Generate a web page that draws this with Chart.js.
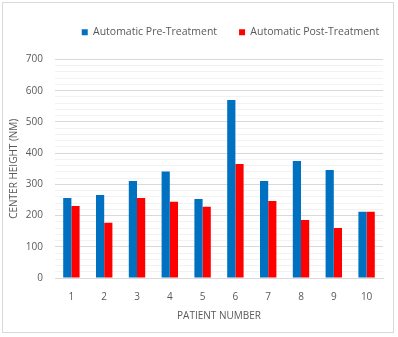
<!DOCTYPE html>
<html>
<head>
<meta charset="utf-8">
<script src="https://cdn.jsdelivr.net/npm/chart.js@4"></script>
<style>
  html, body { margin: 0; padding: 0; background: #fff; }
  .frame {
    position: absolute; left: 2px; top: 2px;
    width: 392px; height: 331px;
    border: 1px solid #d9d9d9; box-sizing: border-box;
  }
  canvas { display: block; }
</style>
</head>
<body>
<div class="frame"><canvas id="heightChart"></canvas></div>
<script>
const patients = ["1", "2", "3", "4", "5", "6", "7", "8", "9", "10"];
const preTreatment = [256, 266, 311, 341, 253, 570, 311, 375, 346, 212];
const postTreatment = [231, 177, 256, 244, 228, 365, 247, 186, 160, 212];

const textColor = "#595959";
const chartFont = { family: "Open Sans, Arial", size: 10 };

// extra room under the legend, and the legend row pushed right of centre
const legendLayout = {
  id: "legendLayout",
  beforeInit(chart) {
    const fit = chart.legend.fit;
    chart.legend.fit = function () {
      fit.call(this);
      this.height += 12;
    };
  },
  afterLayout(chart) {
    chart.legend.left += 36;
    chart.legend.right += 36;
  }
};

new Chart(document.getElementById("heightChart"), {
  type: "bar",
  data: {
    labels: patients,
    datasets: [
      {
        label: "Automatic Pre-Treatment",
        data: preTreatment,
        backgroundColor: "#0070c0"
      },
      {
        label: "Automatic Post-Treatment",
        data: postTreatment,
        backgroundColor: "#ff0000"
      }
    ]
  },
  plugins: [legendLayout],
  options: {
    responsive: true,
    maintainAspectRatio: false,
    animation: false,
    layout: { padding: { left: 3, right: 10, top: 2, bottom: 10 } },
    datasets: {
      bar: { categoryPercentage: 0.5, barPercentage: 1 }
    },
    plugins: {
      tooltip: { enabled: false },
      legend: {
        position: "top",
        labels: {
          boxWidth: 6,
          boxHeight: 6,
          padding: 22,
          color: textColor,
          font: { family: chartFont.family, size: 10.5 }
        }
      }
    },
    scales: {
      x: {
        grid: { display: false, drawTicks: false },
        border: { color: "#d9d9d9" },
        ticks: { color: textColor, font: chartFont, padding: 13 },
        title: {
          display: true,
          text: "PATIENT NUMBER",
          color: textColor,
          font: chartFont,
          padding: { top: 0, bottom: 0 }
        },
        afterFit(scale) {
          scale.height = 44;
        }
      },
      y: {
        min: 0,
        max: 700,
        border: { display: false },
        grid: {
          drawTicks: false,
          color: (ctx) => (ctx.tick && ctx.tick.value % 100 === 0 ? "#d9d9d9" : "#f2f2f2")
        },
        ticks: {
          stepSize: 20,
          autoSkip: false,
          color: textColor,
          font: chartFont,
          padding: 12,
          callback: (v) => (v % 100 === 0 ? v : "")
        },
        title: {
          display: true,
          text: "CENTER HEIGHT (NM)",
          color: textColor,
          font: chartFont,
          padding: { top: 2, bottom: 4 }
        },
        afterFit(scale) {
          scale.width = 49;
        }
      }
    }
  }
});
</script>
</body>
</html>
